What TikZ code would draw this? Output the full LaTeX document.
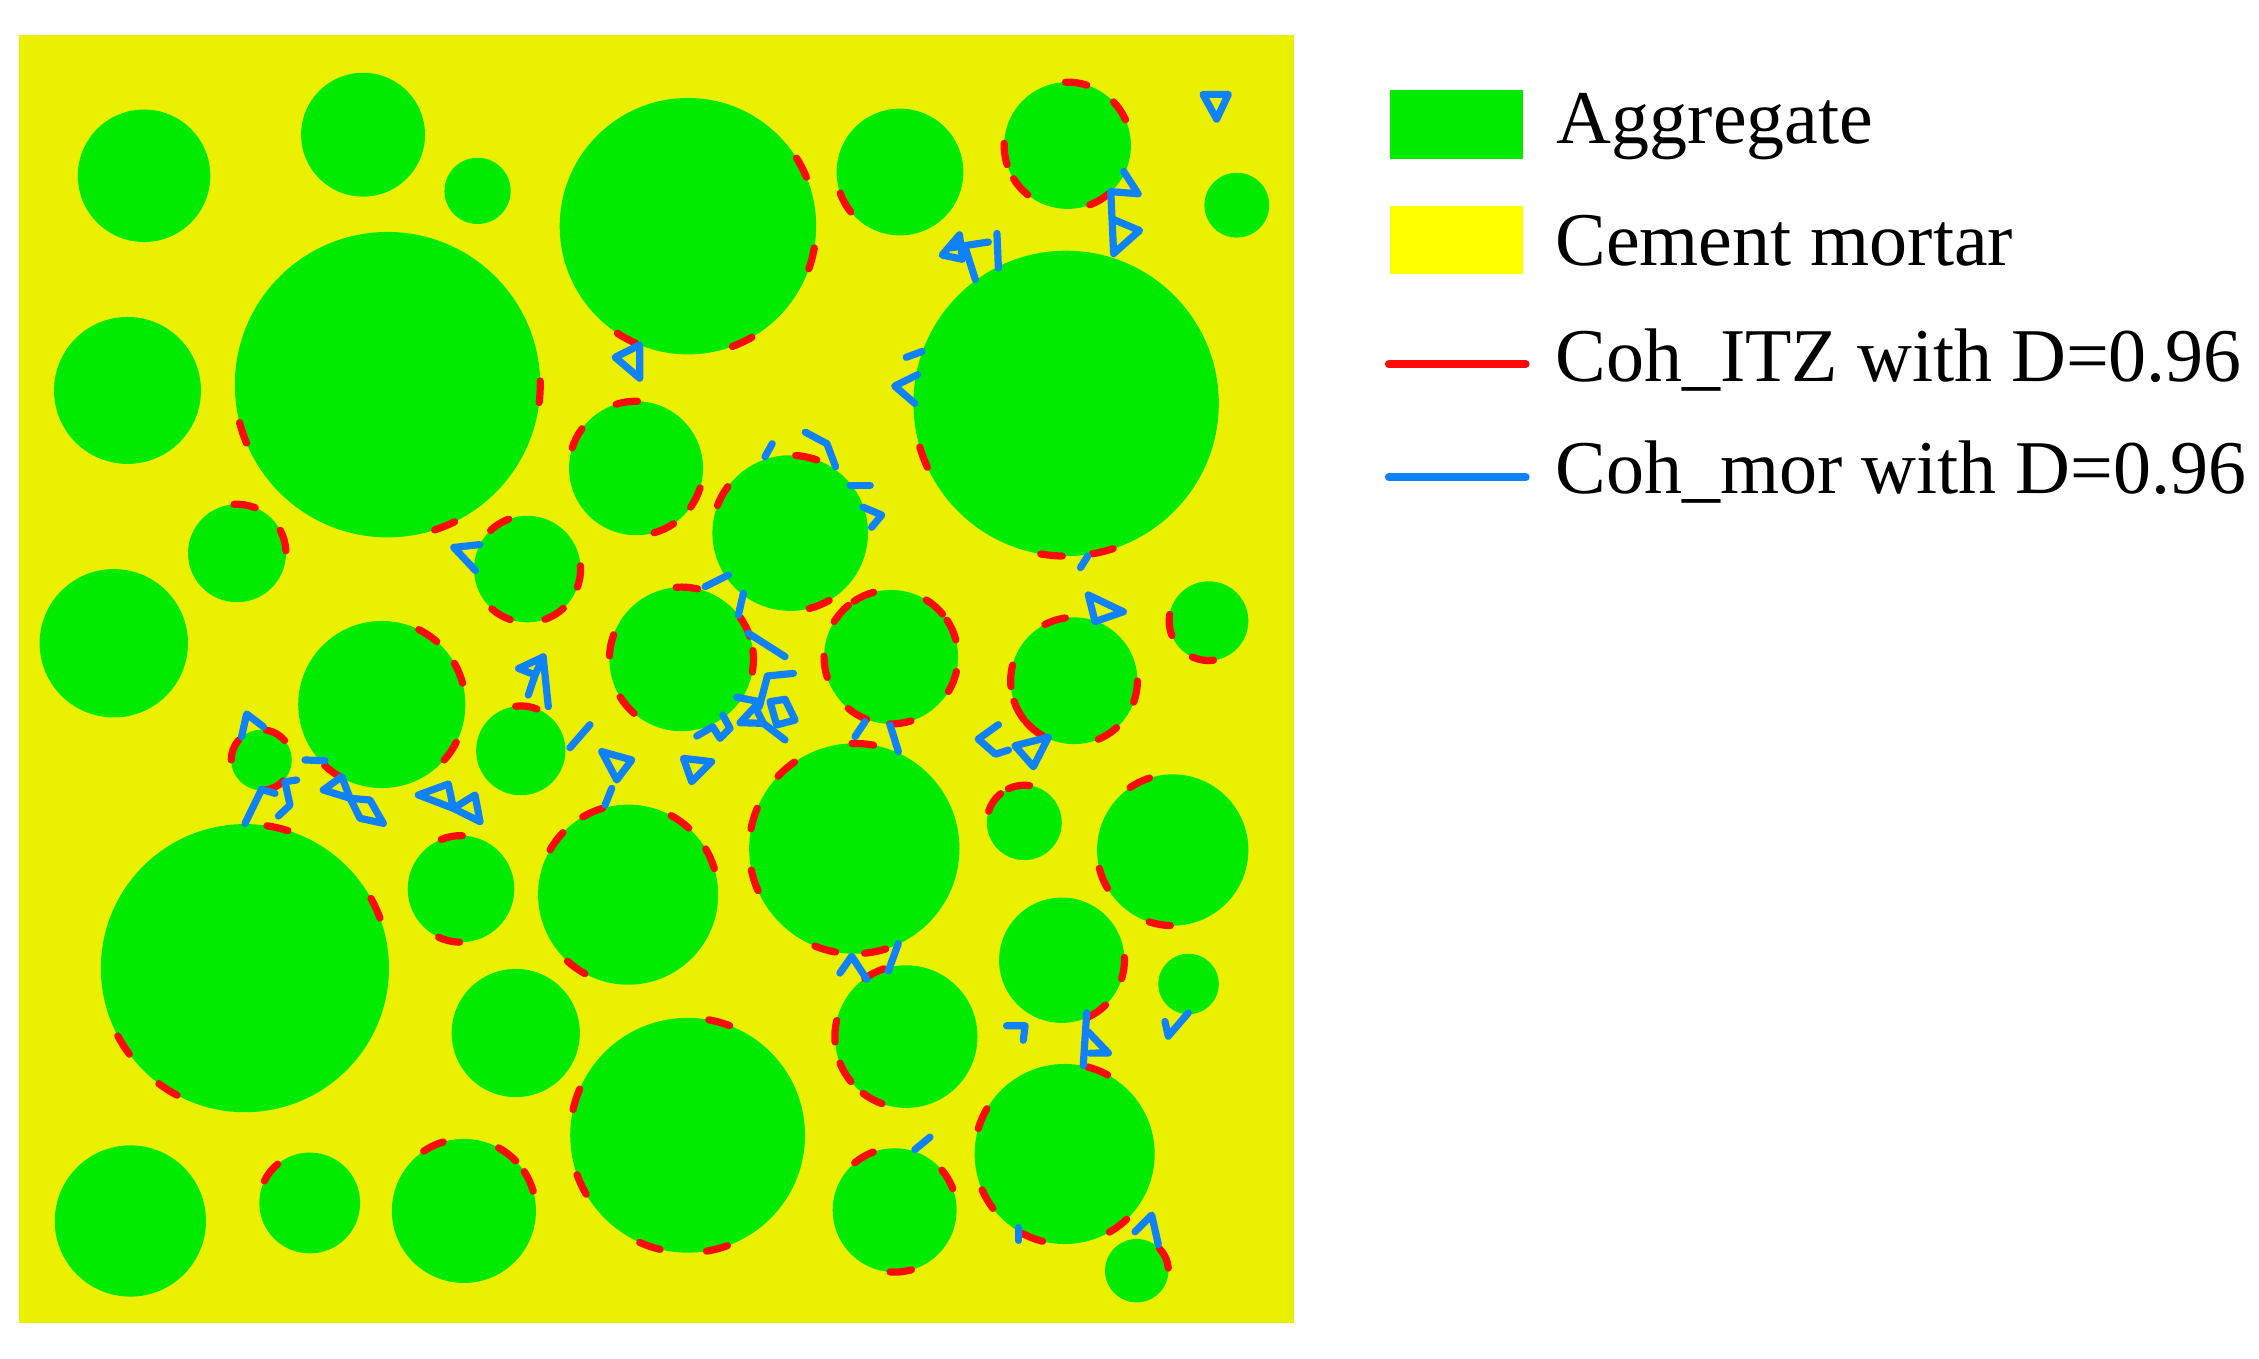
\documentclass[tikz,border=0pt]{standalone}
\usepackage{fontspec}
\setmainfont{Liberation Serif}
\definecolor{mortar}{RGB}{235,240,0}
\definecolor{aggreen}{RGB}{0,235,0}
\definecolor{legyellow}{RGB}{255,255,0}
\definecolor{itzred}{RGB}{255,10,10}
\definecolor{morblue}{RGB}{15,130,250}
\tikzset{
  agg/.style={fill=aggreen},
  itzline/.style={draw=itzred, line width=0.5mm, line cap=round},
  crack/.style={draw=morblue, line width=0.5mm, line cap=round, line join=round},
  legtext/.style={anchor=base west, inner sep=0pt, font=\fontsize{15pt}{18pt}\selectfont}
}
\newcommand\itzarcs[4]{%
  \foreach \px/\py in {#4}{%
    \pgfmathsetmacro\itzang{atan2(\py-(#2),\px-(#1))}%
    \pgfmathsetmacro\itzhw{7.5/(#3)*57.2958}%
    \draw[itzline] (#1,#2) ++(\itzang-\itzhw:#3) arc[start angle=\itzang-\itzhw, end angle=\itzang+\itzhw, radius=#3];
  }}
\begin{document}
\begin{tikzpicture}[x=0.1mm,y=-0.1mm]
\useasboundingbox (0,0) rectangle (1568,943);
\fill[white] (0,0) rectangle (1568,943);
% mortar
\fill[mortar] (13,24) rectangle (898,918);
% aggregates
\foreach \cx/\cy/\r in {
  100/122/46, 252/93.5/43, 331.5/132.5/23, 477.5/157/89, 624.7/119.4/44,
  741/101/44, 858.5/142.4/22.5, 269/267/106, 88.5/271/51, 740/280/106,
  441.5/325/46.5, 548.5/370/54, 164.5/384/34, 366/395/37, 79/446.5/51.5,
  265/489/58, 473/457.5/50, 618.5/456/46.5, 745.5/472.5/44, 839/431/27.5,
  361.5/521/31, 181.5/527.5/21, 593/589/73, 711/571/26, 814/590/52.5,
  170/672/100, 320/617/37, 436/621/62.5, 737/666.5/43.5, 825/683/21,
  358/717/44.5, 629/719.5/49.5, 477.3/788/81.5, 739/801/62.5, 90.5/847.5/52.5,
  215/835/35, 322/840.5/50, 621/840/43, 789/882/22}
  \fill[agg] (\cx,\cy) circle[radius=\r];
% ITZ cohesive elements (red)
\itzarcs{477.5}{157}{89}{555/117, 562/179, 515/237, 435/235}
\itzarcs{624.7}{119.4}{44}{588/140}
\itzarcs{741}{101}{44}{747/58, 777/77, 697/107, 708/130, 762/137}
\itzarcs{269}{267}{106}{170/300, 376/272, 309/366}
\itzarcs{740}{280}{106}{642/317, 730/384, 765/381}
\itzarcs{441.5}{325}{46.5}{435/279, 400/304, 482/345, 460/365}
\itzarcs{548.5}{370}{54}{501/344, 560/316, 568/418}
\itzarcs{164.5}{384}{34}{170/350, 197/375}
\itzarcs{366}{395}{37}{346/363, 401/400, 348/426, 384/425}
\itzarcs{265}{489}{58}{297/441, 319/467, 312/521, 232/535}
\itzarcs{473}{457.5}{50}{477/406, 425/448, 437/488, 521/459, 517/435}
\itzarcs{618.5}{456}{46.5}{583/425, 599/413, 572/463, 595/496, 625/502, 648/422, 659/438, 661/473}
\itzarcs{745.5}{472.5}{44}{732/430, 701/469, 706/494, 718/506, 768/508, 788/480}
\itzarcs{839}{431}{27.5}{811/434, 835/457}
\itzarcs{361.5}{521}{31}{366/486}
\itzarcs{181.5}{527.5}{21}{192/509, 161.5/520, 190/545}
\itzarcs{593}{589}{73}{545/533, 523/568, 524/611, 599/515, 573/658, 607/658}
\itzarcs{711}{571}{26}{686/554, 707/544}
\itzarcs{814}{590}{52.5}{790/541, 765/610, 805/641}
\itzarcs{170}{672}{100}{261.5/630, 193/573, 88/724, 118/754}
\itzarcs{320}{617}{37}{313.5/581, 312/651}
\itzarcs{436}{621}{62.5}{410/561, 385/583, 473/569, 493/596, 401/670}
\itzarcs{737}{666.5}{43.5}{780/672, 760/700}
\itzarcs{629}{719.5}{49.5}{606/674, 583/716, 589/743, 607/760}
\itzarcs{477.3}{788}{81.5}{500/707, 400/763, 404/822, 452/862, 497/864}
\itzarcs{739}{801}{62.5}{762/743, 681/776, 686/832, 717/858, 774/848}
\itzarcs{215}{835}{35}{187/813}
\itzarcs{322}{840.5}{50}{300/794, 353/800, 367/820}
\itzarcs{621}{840}{43}{596/797, 657/819, 625/880}
\itzarcs{789}{882}{22}{809/873}
% mortar cohesive elements (blue)
\draw[crack] (427,248) -- (444,239.5) -- (444,262.5) -- cycle;
\draw[crack] (654,177) -- (666,163) -- (668,180) -- cycle;
\draw[crack] (660,172) -- (686,168);
\draw[crack] (670,172) -- (677,194);
\draw[crack] (692,162) -- (693,186);
\draw[crack] (780,119) -- (790,134.5) -- (771,133) -- (773,176) -- (791,160) -- (772,152);
\draw[crack] (835,65.5) -- (852.6,65.5) -- (844.5,82.7) -- cycle;
\draw[crack] (629,248) -- (640,244);
\draw[crack] (637,260) -- (621,268) -- (635,280);
\draw[crack] (536,308) -- (531,317);
\draw[crack] (559,300) -- (574,308) -- (580,324);
\draw[crack] (590,337) -- (604,337);
\draw[crack] (599,352) -- (612,357.5) -- (605,366);
\draw[crack] (333,378) -- (315,380) -- (330,396);
\draw[crack] (377,456) -- (360,464) -- (371.4,468.5) -- cycle;
\draw[crack] (377,456) -- (380.6,490.5);
\draw[crack] (371.4,468.5) -- (366.7,482.4);
\draw[crack] (395.6,519) -- (409.5,503);
\draw[crack] (417.7,521.7) -- (438.5,527.5) -- (428.1,541.4) -- cycle;
\draw[crack] (424.6,547.2) -- (420,558.8);
\draw[crack] (474.4,526.4) -- (494,528.7) -- (480.1,542.6) -- cycle;
\draw[crack] (489.4,407.2) -- (505.6,399.1);
\draw[crack] (512.5,426.9) -- (516,411.8);
\draw[crack] (519.5,439.6) -- (544.9,455.8);
\draw[crack] (550.7,467.4) -- (532.7,469.2) -- (527.1,490.5);
\draw[crack] (511.4,484) -- (527.1,487);
\draw[crack] (513.7,501.6) -- (524.1,490.5) -- (529.9,502.1) -- cycle;
\draw[crack] (534.5,487) -- (544.9,485.4) -- (551.9,499.8) -- (539.1,503.2) -- cycle;
\draw[crack] (529.9,502.1) -- (544.9,513.6);
\draw[crack] (483.6,510.9) -- (494.7,504.4) -- (499.8,512.5) -- (506.7,505.5) -- (501.7,496.3);
\draw[crack] (167.7,511.3) -- (171.2,495.6) -- (182.8,504.4);
\draw[crack] (170.1,571.5) -- (181.6,547.9) -- (190.9,550.7);
\draw[crack] (205.9,541.4) -- (197.8,542.6) -- (201.3,558.8) -- (193.2,566.4);
\draw[crack] (211.7,527.5) -- (225.6,528);
\draw[crack] (243,554.1) -- (224.4,548.3) -- (237.2,539.1) -- (243,554.1) -- (256.8,555.3) -- (266.1,571.5) -- (249.9,568) -- cycle;
\draw[crack] (290.4,551.8) -- (311.2,544.2) -- (314.7,561.1) -- cycle;
\draw[crack] (314.7,561.1) -- (329.7,551.8) -- (333.2,570.3) -- cycle;
\draw[crack] (600.4,500.9) -- (593.5,511.3);
\draw[crack] (617.8,503.2) -- (623.6,521.7);
\draw[crack] (755.4,413) -- (779.7,424.6) -- (760.1,431.5) -- cycle;
\draw[crack] (750,394) -- (755,386);
\draw[crack] (693,503) -- (679,513) -- (691,523.5) -- (700,520.6);
\draw[crack] (704.5,517.6) -- (727.7,511.7) -- (717.3,532.2) -- cycle;
\draw[crack] (583,675.4) -- (591.2,663.7) -- (601.6,679.7);
\draw[crack] (623.5,655) -- (616.6,674);
\draw[crack] (754.3,703) -- (751.9,739.6);
\draw[crack] (755.4,716.3) -- (769.3,730.9) -- (756.6,731);
\draw[crack] (698.7,712) -- (711.5,712) -- (710.3,722);
\draw[crack] (808.6,709) -- (810.9,719.2) -- (824.8,703.1);
\draw[crack] (635,798) -- (645.5,789.3);
\draw[crack] (706.8,852) -- (706.8,861);
\draw[crack] (787.8,855) -- (799.4,843.4) -- (804,863.8);
% legend
\fill[aggreen] (964.7,62.5) rectangle (1057.4,110.4);
\fill[legyellow] (964.7,142.8) rectangle (1057.4,190.4);
\draw[itzred, line width=0.55mm, line cap=round] (964,252.7) -- (1059,252.7);
\draw[morblue, line width=0.55mm, line cap=round] (964,331.3) -- (1059,331.3);
\node[legtext] (lagg) at (1080,99.5) {Aggregate};
\node[legtext] (lmor) at (1079,184) {Cement mortar};
\node[legtext] (litz) at (1079,265) {Coh\_ITZ with D=0.96};
\node[legtext] (lcoh) at (1079,342.4) {Coh\_mor with D=0.96};
\end{tikzpicture}
\end{document}
